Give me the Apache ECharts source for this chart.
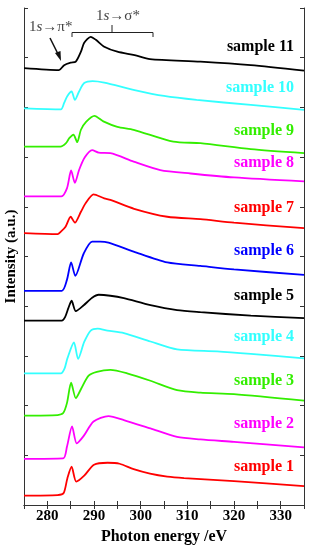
<!DOCTYPE html>
<html><head><meta charset="utf-8">
<script src="https://cdn.jsdelivr.net/npm/echarts@6/dist/echarts.min.js"></script>
<style>html,body{margin:0;padding:0;background:#fff}#c{width:310px;height:550px}</style>
</head><body><div id="c"></div>
<script>
// Series names and colours
const sampleNames = ['sample 1','sample 2','sample 3','sample 4','sample 5','sample 6','sample 7','sample 8','sample 9','sample 10','sample 11'];
const sampleColors = ['#ff0000','#ff00ff','#33ee00','#33ffff','#000000','#0000ff','#ff0000','#ff00ff','#33ee00','#33ffff','#000000'];
const xTicks = [280,290,300,310,320,330];

// [photon energy (eV), stacked intensity (a.u.)]
const sample1 = [[275,0.19],[282.2,0.20],[283.5,0.24],[284.3,0.54],[285.2,0.77],[286.2,0.47],[287.9,0.59],[290,0.81],[292.9,0.85],[295.5,0.83],[298.5,0.72],[302,0.63],[305.7,0.57],[309.3,0.54],[320,0.48],[335,0.38]];
const sample2 = [[275,0.93],[283.4,0.94],[284.2,1.17],[285.3,1.58],[286.3,1.24],[287.8,1.39],[289.9,1.68],[293.1,1.79],[296.4,1.71],[302.1,1.54],[307.8,1.37],[312.8,1.32],[320,1.27],[335,1.16]];
const sample3 = [[275,1.80],[282.2,1.81],[283.4,1.85],[284.2,2.05],[285.1,2.46],[286.1,2.15],[287.3,2.35],[288.8,2.60],[290.6,2.68],[293.5,2.72],[297.1,2.65],[302.1,2.50],[307.8,2.31],[312.8,2.26],[320,2.23],[335,2.10]];
const sample4 = [[275,2.65],[282.9,2.65],[283.7,2.75],[284.3,2.95],[285.7,3.27],[286.6,2.94],[287.9,3.28],[289.3,3.51],[290.8,3.55],[292.9,3.51],[296.4,3.46],[302.1,3.29],[307.8,3.13],[316.4,3.09],[323.6,3.04],[335,2.95]];
const sample5 = [[275,3.71],[283.1,3.71],[283.8,3.78],[284.5,3.96],[285.2,4.11],[286.1,3.90],[287.8,4.02],[289.6,4.17],[291,4.23],[293.5,4.21],[296.4,4.16],[302.1,4.02],[307.8,3.92],[312.8,3.88],[323.6,3.81],[335,3.76]];
const sample6 = [[275,4.31],[283.1,4.31],[284.2,4.53],[285.1,4.88],[286,4.61],[287.8,5.06],[289.6,5.30],[291.3,5.30],[293.1,5.28],[298.5,5.10],[305.7,4.88],[312.8,4.81],[320,4.74],[335,4.63]];
const sample7 = [[275,5.47],[282.2,5.45],[282.9,5.50],[283.9,5.60],[285,5.80],[285.9,5.68],[287.2,5.90],[288.2,6.07],[289.9,6.25],[292.2,6.17],[293.5,6.14],[298.6,5.96],[305.7,5.80],[312.8,5.75],[320,5.68],[335,5.57]];
const sample8 = [[275,6.21],[283,6.21],[284.2,6.37],[285.1,6.73],[285.9,6.48],[286.8,6.74],[288,6.99],[289.6,7.14],[291,7.09],[293.5,7.08],[298.5,6.91],[304.2,6.74],[310.7,6.67],[320,6.59],[335,6.51]];
const sample9 = [[275,7.21],[282.8,7.21],[284,7.28],[284.7,7.38],[285.6,7.45],[286.4,7.30],[287.2,7.55],[288.3,7.71],[290.1,7.83],[292,7.72],[295,7.61],[298.5,7.55],[307,7.31],[312.8,7.28],[323.6,7.16],[335,7.08]];
const sample10 = [[275,7.98],[282.9,7.96],[283.6,8.09],[284.3,8.23],[285.2,8.32],[285.9,8.15],[286.8,8.32],[287.9,8.49],[289.7,8.53],[292.2,8.50],[298.7,8.35],[305,8.23],[312,8.15],[323.6,8.05],[335,7.95]];
const sample11 = [[275,8.79],[282.5,8.75],[283.6,8.85],[285,8.90],[286.1,8.92],[287.2,9.12],[287.9,9.30],[289.3,9.42],[290.4,9.36],[292.2,9.22],[295,9.12],[298.7,9.05],[302,8.97],[312.8,8.92],[323.6,8.85],[335,8.74]];

const allSamples = [sample1,sample2,sample3,sample4,sample5,sample6,sample7,sample8,sample9,sample10,sample11];
const labelY = [468,425,382,338,297,252,209,164,132,89,48];

const chart = echarts.init(document.getElementById('c'), null, {renderer:'canvas'});
const serif = '"Liberation Serif","DejaVu Serif",serif';
const axisLine = {show:true, lineStyle:{color:'#333', width:1}};
const tick = {show:true, inside:true, length:4, lineStyle:{color:'#333'}};

const series = allSamples.map((d,i)=>({
  type:'line', name:sampleNames[i], data:d, symbol:'none', smooth:0.25,
  lineStyle:{color:sampleColors[i], width:1.8}, silent:true, animation:false, z:3
}));

const labels = sampleNames.map((n,i)=>({
  type:'text', right:16, top:labelY[i]-9,
  style:{text:n, fill:sampleColors[i], font:'bold 16px '+serif}
}));

const rt = (t)=>({
  text:t, font:'15px '+serif, fill:'#444',
  rich:{n:{fontFamily:serif, fontSize:15, fill:'#444'}, it:{fontFamily:serif, fontSize:15, fontStyle:'italic', fill:'#444'}}
});

const option = {
  animation:false,
  grid:{left:24, right:6, top:8, bottom:45, containLabel:false, outerBoundsMode:'none'},
  xAxis:[{
    type:'value', min:275, max:335, interval:5,
    axisLine:axisLine, axisTick:tick, splitLine:{show:false},
    axisLabel:{margin:4, color:'#000', fontFamily:serif, fontWeight:'bold', fontSize:15,
      formatter:v=> xTicks.includes(v) ? String(v) : ''},
    name:'Photon energy /eV', nameLocation:'middle', nameGap:24,
    nameTextStyle:{color:'#000', fontFamily:serif, fontWeight:'bold', fontSize:16}
  },{
    type:'value', position:'top', min:275, max:335, interval:5,
    axisLine:axisLine, axisTick:tick, axisLabel:{show:false}, splitLine:{show:false}
  }],
  yAxis:[{
    type:'value', min:0, max:10, interval:1,
    axisLine:axisLine, axisTick:tick, axisLabel:{show:false}, splitLine:{show:false},
    name:'Intensity (a.u.)', nameLocation:'middle', nameGap:5,
    nameTextStyle:{color:'#000', fontFamily:serif, fontWeight:'bold', fontSize:15}
  },{
    type:'value', position:'right', min:0, max:10, interval:1,
    axisLine:axisLine, axisTick:tick, axisLabel:{show:false}, splitLine:{show:false}
  }],
  series:series,
  graphic:labels.concat([
    {type:'text', left:29, top:20, style:rt('{n|1}{it|s}{n|→π*}')},
    {type:'text', left:96, top:9, style:rt('{n|1}{it|s}{n|→σ*}')},
    {type:'polyline', shape:{points:[[72,37],[72,32.5],[153,32.5],[153,37]]}, style:{stroke:'#222', lineWidth:1, fill:null}},
    {type:'line', shape:{x1:112,y1:32.5,x2:112,y2:25}, style:{stroke:'#222', lineWidth:1}},
    {type:'line', shape:{x1:50,y1:38,x2:58,y2:54}, style:{stroke:'#111', lineWidth:1.5}},
    {type:'polygon', shape:{points:[[61,61],[55,53],[60.5,51]]}, style:{fill:'#111'}}
  ])
};
chart.setOption(option);
</script></body></html>
